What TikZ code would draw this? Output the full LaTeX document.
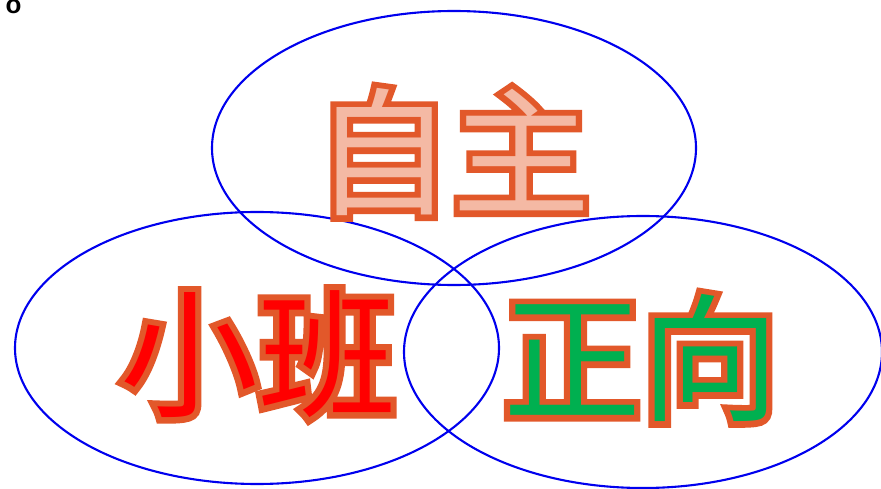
\documentclass[tikz,border=0pt]{standalone}
\usepackage{fontspec}
\usetikzlibrary{shapes.geometric}
\newfontfamily\cjkfont{Noto Sans CJK SC}
\newfontfamily\cjkbold[FakeBold=9]{Noto Sans CJK SC}
\newfontfamily\latinfont{Liberation Sans}
\definecolor{outl}{HTML}{E2582A}
\definecolor{pinkfill}{HTML}{F4B9A4}
\definecolor{redfill}{HTML}{FF0000}
\definecolor{greenfill}{HTML}{00B050}
\definecolor{ringblue}{HTML}{0000EE}
\newcommand\outlinedtext[2]{\rlap{\cjkbold\color{outl}#1}{\cjkfont\color{#2}#1}}
\tikzset{
  ring/.style={draw=ringblue, line width=2.1pt, ellipse, inner sep=0pt},
  bigword/.style={inner sep=0pt, font=\fontsize{138}{138}\selectfont}
}
\begin{document}
\begin{tikzpicture}[x=1pt,y=-1pt]
\useasboundingbox (0,0) rectangle (881,489);
\clip (0,0) rectangle (881,489);
\fill[white] (0,0) rectangle (881,489);
\node[ring, minimum width=484pt, minimum height=274pt] (top) at (454,148) {};
\node[ring, minimum width=484pt, minimum height=272pt] (left) at (257,348) {};
\node[ring, minimum width=478pt, minimum height=272pt] (right) at (643,352) {};
\node[bigword] (zizhu) at (452,152) {\outlinedtext{自主}{pinkfill}};
\node[bigword] (xiaoban) at (258,354) {\outlinedtext{小班}{redfill}};
\node[bigword] (zhengxiang) at (641,358) {\outlinedtext{正向}{greenfill}};
\node[inner sep=0pt, anchor=base, font=\latinfont\bfseries\fontsize{26}{26}\selectfont] (o) at (13.5,14) {o};
\end{tikzpicture}
\end{document}
